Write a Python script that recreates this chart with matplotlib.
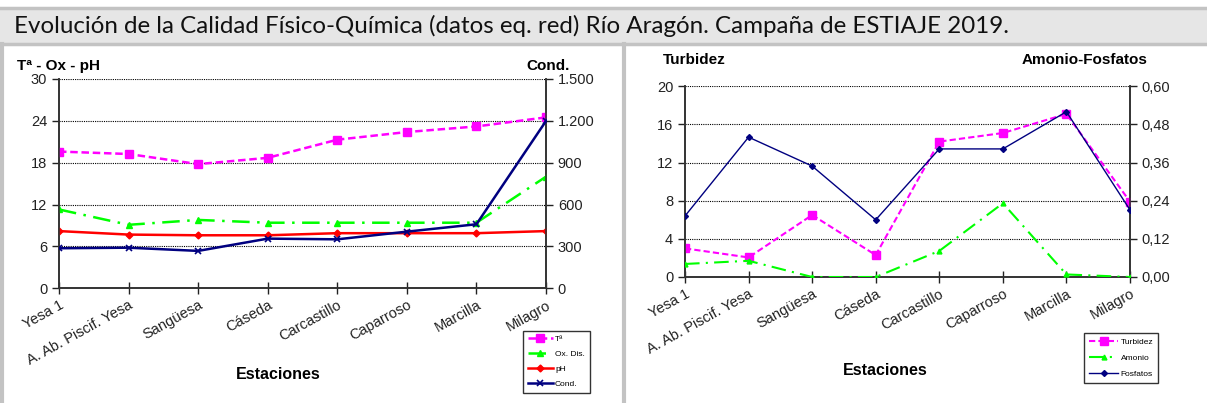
import matplotlib
matplotlib.use("Agg")
import matplotlib.pyplot as plt
from matplotlib.patches import Rectangle
from matplotlib.lines import Line2D

# =========================
# Data
# =========================
estaciones = ["Yesa 1", "A. Ab. Piscif. Yesa", "Sangüesa", "Cáseda",
              "Carcastillo", "Caparroso", "Marcilla", "Milagro"]

temperatura = [19.6, 19.25, 17.8, 18.7, 21.3, 22.4, 23.2, 24.5]
oxigeno = [11.3, 9.1, 9.8, 9.4, 9.4, 9.4, 9.4, 16.0]
ph = [8.2, 7.7, 7.6, 7.6, 7.9, 7.9, 7.9, 8.2]
conductividad = [287, 291, 268, 356, 351, 406, 459, 1199]

turbidez = [3.0, 2.05, 6.5, 2.3, 14.2, 15.1, 17.1, 7.9]
amonio = [0.041, 0.051, 0.0, 0.0, 0.082, 0.232, 0.008, 0.0]
fosfatos = [0.192, 0.44, 0.349, 0.18, 0.403, 0.403, 0.52, 0.211]

left_ticks = [0, 6, 12, 18, 24, 30]
cond_ticks = [0, 300, 600, 900, 1200, 1500]
turb_ticks = [0, 4, 8, 12, 16, 20]
nutr_ticks = [0.0, 0.12, 0.24, 0.36, 0.48, 0.60]

TITLE = "Evolución de la Calidad Físico-Química (datos eq. red) Río Aragón. Campaña de ESTIAJE 2019."

plt.rcParams["font.family"] = ["Liberation Sans", "DejaVu Sans"]

W, H = 1207, 403
fig = plt.figure(figsize=(W / 100, H / 100), dpi=100)


def fx(px):
    return px / W


def fy(py):
    return 1 - py / H


# =========================
# Frame / title bar
# =========================
grey = "#c3c3c3"
fig.patches.append(Rectangle((0, fy(44)), 1, fy(8) - fy(44), transform=fig.transFigure,
                             facecolor="#e6e6e6", edgecolor="none", zorder=0))
for y in (8, 43.5):
    fig.add_artist(Line2D([0, 1], [fy(y), fy(y)], transform=fig.transFigure,
                          color=grey, lw=2.5))
for x in (1.5, 624):
    fig.add_artist(Line2D([fx(x), fx(x)], [fy(44), 0], transform=fig.transFigure,
                          color=grey, lw=3))
fig.text(fx(14), fy(26), TITLE, fontsize=17.4, family=["Lato", "DejaVu Sans"],
         va="center", ha="left", color="#111111")


def style_axes(ax, ax2, ticks_l, labels_l, ticks_r, labels_r, xlabel_y):
    n = len(estaciones)
    ax.set_xlim(0, n - 1)
    ax.set_ylim(ticks_l[0], ticks_l[-1])
    ax2.set_ylim(ticks_r[0], ticks_r[-1])
    ax.set_yticks(ticks_l)
    ax.set_yticklabels(labels_l)
    ax2.set_yticks(ticks_r)
    ax2.set_yticklabels(labels_r)
    ax.set_xticks(range(n))
    ax.set_xticklabels(estaciones, rotation=29, ha="right", rotation_mode="anchor")
    for t in ticks_l[1:]:
        ax.axhline(t, color="black", lw=0.8, ls=(0, (1, 1)), zorder=0)
    for a in (ax, ax2):
        a.spines["top"].set_visible(False)
        for s in ("left", "right", "bottom"):
            a.spines[s].set_color("#333333")
            a.spines[s].set_linewidth(1.2)
        a.tick_params(labelsize=10.5, colors="#222222", length=5, width=1)
    ax.tick_params(axis="x", direction="inout", length=8, pad=3, labelsize=10.5)
    ax.set_xlabel("Estaciones", fontsize=11.5, fontweight="bold", va="top")
    ax.xaxis.set_label_coords(0.45, xlabel_y)


# =========================
# Left chart
# =========================
ax1 = fig.add_axes([fx(59), fy(288.3), fx(546 - 59), fy(79) - fy(288.3)])
ax1b = ax1.twinx()
x = range(len(estaciones))
l1, = ax1.plot(x, temperatura, color="#ff00ff", ls=(0, (3, 1.5)), lw=1.8,
               marker="s", ms=6, label="Tª", zorder=5)
l2, = ax1.plot(x, oxigeno, color="#00ff00", ls=(0, (7, 3, 1, 3)), lw=1.8,
               marker="^", ms=4, label="Ox. Dis.", zorder=5)
l3, = ax1.plot(x, ph, color="#ff0000", lw=1.8, marker="D", ms=3.5,
               label="pH", zorder=5)
l4, = ax1b.plot(x, conductividad, color="#000080", lw=1.8, marker="x", ms=4,
                mew=1.2, label="Cond.", zorder=5)
style_axes(ax1, ax1b, left_ticks, [str(v) for v in left_ticks], cond_ticks,
           [f"{v:,}".replace(",", ".") for v in cond_ticks],
           -(367 - 288.3) / 209.3)
fig.text(fx(17), fy(66), "Tª - Ox - pH", fontsize=11, fontweight="bold", va="center")
fig.text(fx(570), fy(66), "Cond.", fontsize=11, fontweight="bold", va="center", ha="right")
fig.legend([l1, l2, l3, l4], ["Tª", "Ox. Dis.", "pH", "Cond."],
           loc="upper left", bbox_to_anchor=(fx(523), fy(331)), fontsize=6,
           frameon=True, fancybox=False, edgecolor="black", handlelength=3,
           labelspacing=0.85, borderpad=0.55, handletextpad=0.3, borderaxespad=0)

# =========================
# Right chart
# =========================
ax2 = fig.add_axes([fx(685), fy(277), fx(1130 - 685), fy(86.3) - fy(277)])
ax2b = ax2.twinx()
r1, = ax2.plot(x, turbidez, color="#ff00ff", ls=(0, (3, 1.5)), lw=1.5,
               marker="s", ms=5.5, label="Turbidez", zorder=5)
r2, = ax2b.plot(x, amonio, color="#00ff00", ls=(0, (7, 3, 1, 3)), lw=1.5,
                marker="^", ms=3.5, label="Amonio", zorder=5)
r3, = ax2b.plot(x, fosfatos, color="#000080", lw=1, marker="D", ms=3,
                label="Fosfatos", zorder=5)
style_axes(ax2, ax2b, turb_ticks, [str(v) for v in turb_ticks], nutr_ticks,
           [f"{v:.2f}".replace(".", ",") for v in nutr_ticks],
           -(363 - 277) / 190.7)
fig.text(fx(663), fy(60), "Turbidez", fontsize=11, fontweight="bold", va="center")
fig.text(fx(1147), fy(60), "Amonio-Fosfatos", fontsize=11, fontweight="bold",
         va="center", ha="right")
fig.legend([r1, r2, r3], ["Turbidez", "Amonio", "Fosfatos"],
           loc="upper left", bbox_to_anchor=(fx(1084), fy(333)), fontsize=6,
           frameon=True, fancybox=False, edgecolor="black", handlelength=3.5,
           labelspacing=1.0, borderpad=0.6, handletextpad=0.3, borderaxespad=0)

fig.savefig("out.png", dpi=100)
